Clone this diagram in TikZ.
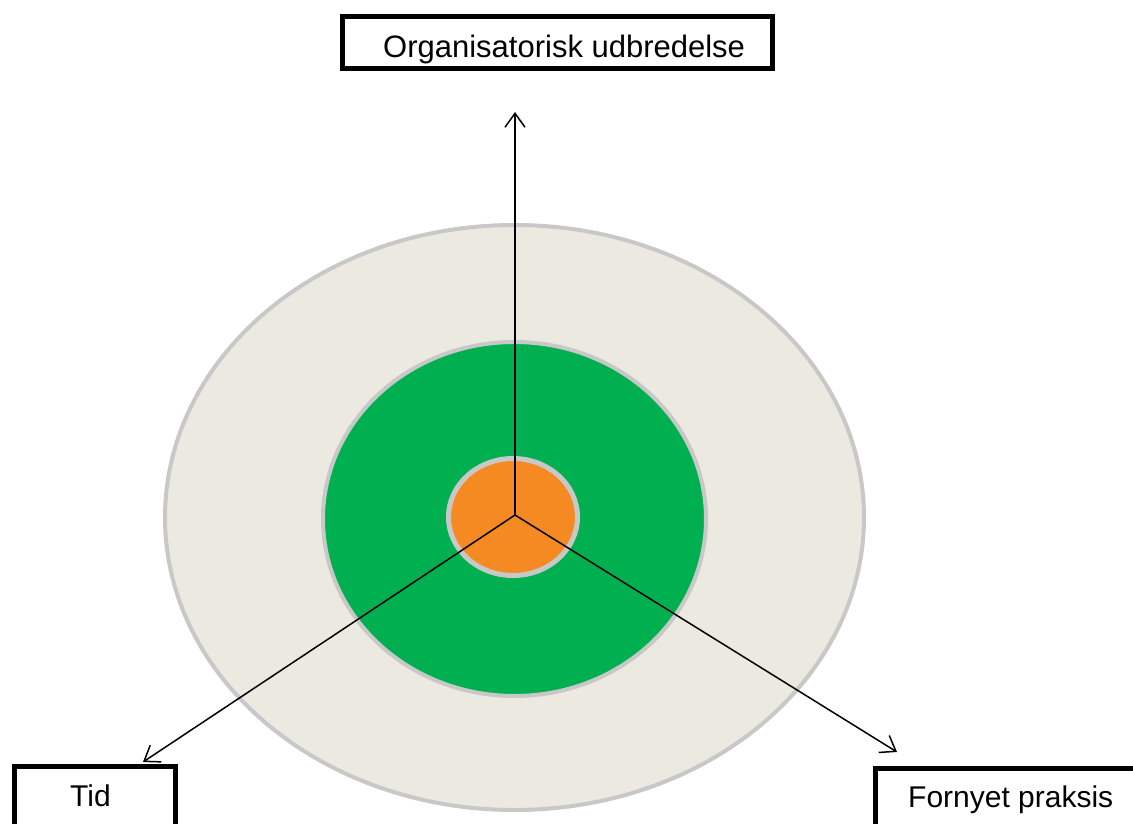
\documentclass[tikz,border=0pt]{standalone}
\usepackage{fontspec}
\setmainfont{Liberation Sans}
\usetikzlibrary{arrows.meta}
\definecolor{ringgray}{HTML}{C8C8C8}
\definecolor{beige}{HTML}{ECE9E0}
\definecolor{ringgreen}{HTML}{00B050}
\definecolor{ringorange}{HTML}{F58A22}
\tikzset{
  labelbox/.style={draw=black, line width=5pt, fill=white, inner sep=0pt},
  labeltext/.style={inner sep=0pt, anchor=base west, font=\fontsize{30}{36}\selectfont},
  axis/.style={line width=1.5pt, -{Straight Barb[length=14pt,width=20pt,line width=1.5pt]}},
  ring/.style={draw=ringgray, line width=4pt}
}
\begin{document}
\begin{tikzpicture}[x=1pt,y=-1pt]
\useasboundingbox (0,0) rectangle (1133,823);
\begin{scope}
\clip (0,0) rectangle (1133,823);
% rings
\path[ring, fill=beige] (514.5,517.5) ellipse [x radius=349.5, y radius=292.5];
\path[ring, fill=ringgreen] (514.5,519) ellipse [x radius=191.5, y radius=177];
\path[ring, line width=5pt, fill=ringorange] (513,517) ellipse [x radius=64.5, y radius=58.5];
% boxes
\node[labelbox, minimum width=430pt, minimum height=52pt] (topbox) at (557.5,42.5) {};
\node[labelbox, minimum width=161pt, minimum height=73.5pt] (tidbox) at (95,803.25) {};
\node[labelbox, minimum width=274.5pt, minimum height=71.5pt] (fornbox) at (1012.75,804.25) {};
\node[labeltext, font=\fontsize{31}{37}\selectfont] (toptext) at (383,57) {Organisatorisk udbredelse};
\node[labeltext] (tidtext) at (70,806) {Tid};
\node[labeltext] (forntext) at (908,807) {Fornyet praksis};
% axes
\coordinate (c) at (515,515);
\coordinate (up) at (515,112);
\coordinate (tid) at (143,762);
\coordinate (forn) at (897,752);
\draw[axis] (c) -- (up);
\draw[axis] (c) -- (tid);
\draw[axis] (c) -- (forn);
\end{scope}
\end{tikzpicture}
\end{document}
